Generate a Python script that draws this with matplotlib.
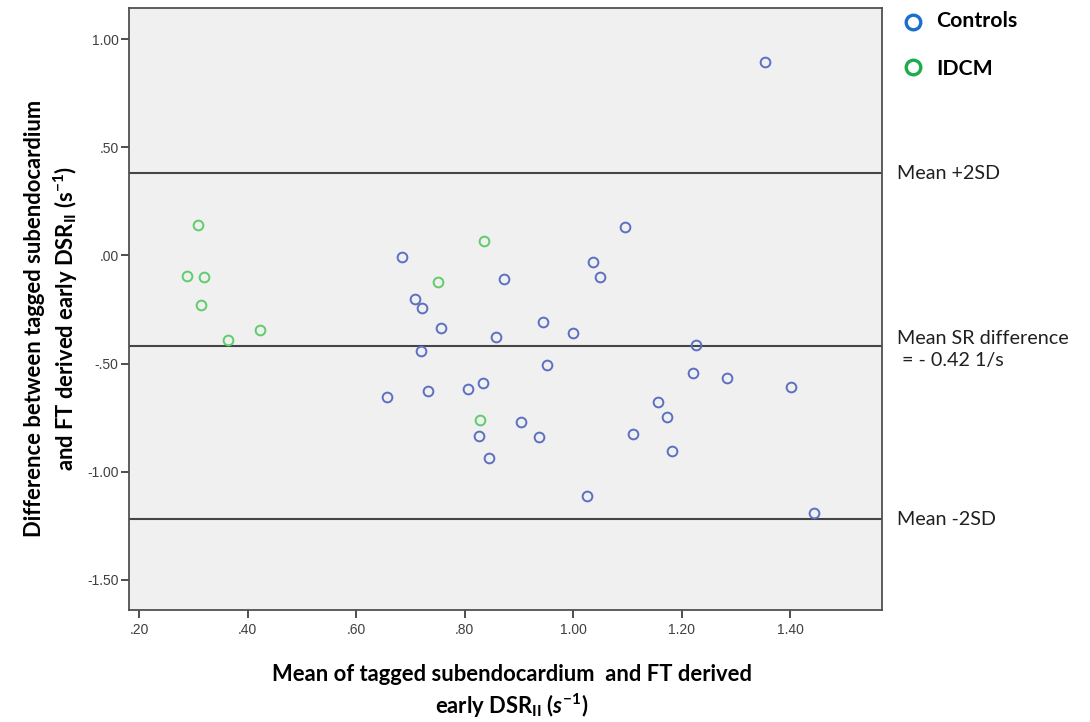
import matplotlib
matplotlib.use("Agg")
import matplotlib.pyplot as plt
import matplotlib.transforms as mtransforms
from matplotlib.ticker import FuncFormatter

# Bland-Altman data: mean of the two methods (x) and their difference (y)
controls_mean = [0.684, 0.708, 0.721, 0.756, 0.719, 1.095, 1.036, 1.049, 0.873,
                 0.944, 0.999, 0.858, 0.952, 0.833, 0.806, 0.733, 0.656, 0.903,
                 0.826, 0.937, 0.844, 1.157, 1.173, 1.111, 1.182, 1.226, 1.220,
                 1.283, 1.402, 1.443, 1.353, 1.025]
controls_diff = [-0.009, -0.199, -0.242, -0.333, -0.441, 0.131, -0.032, -0.099,
                 -0.108, -0.309, -0.360, -0.378, -0.505, -0.588, -0.617, -0.628,
                 -0.656, -0.769, -0.836, -0.838, -0.934, -0.676, -0.748, -0.826,
                 -0.906, -0.414, -0.543, -0.568, -0.606, -1.190, 0.894, -1.111]

idcm_mean = [0.309, 0.288, 0.319, 0.313, 0.364, 0.422, 0.751, 0.836, 0.829]
idcm_diff = [0.140, -0.097, -0.099, -0.230, -0.392, -0.346, -0.122, 0.066, -0.761]

mean_diff = -0.42
upper_loa = 0.38
lower_loa = -1.22

x_ticks = [0.2, 0.4, 0.6, 0.8, 1.0, 1.2, 1.4]
y_ticks = [1.0, 0.5, 0.0, -0.5, -1.0, -1.5]

plt.rcParams['mathtext.fontset'] = 'custom'
plt.rcParams['mathtext.rm'] = 'Lato:bold'
plt.rcParams['mathtext.bf'] = 'Lato:bold'
plt.rcParams['mathtext.it'] = 'Lato:bold:italic'

fig = plt.figure(figsize=(10.9, 7.22), dpi=100)
ax = fig.add_axes([0.1183, 0.1551, 0.6911, 0.8338])
ax.set_facecolor('#f0f0f0')

ax.plot(controls_mean, controls_diff, 'o', ms=7, mfc='none', mec='#5b70c2',
        mew=1.4, zorder=3)
ax.plot(idcm_mean, idcm_diff, 'o', ms=7, mfc='none', mec='#5fcc6b',
        mew=1.4, zorder=3)

for yv in (upper_loa, mean_diff, lower_loa):
    ax.axhline(yv, color='#454545', lw=1.5, zorder=2)

ax.set_xlim(0.181, 1.5696)
ax.set_ylim(-1.639, 1.144)
ax.set_xticks(x_ticks)
ax.set_yticks(y_ticks)


def spss_fmt(v, pos):
    s = f'{v:.2f}'
    if s.startswith('0.'):
        s = s[1:]
    elif s.startswith('-0.'):
        s = '-' + s[2:]
    return s


ax.xaxis.set_major_formatter(FuncFormatter(spss_fmt))
ax.yaxis.set_major_formatter(FuncFormatter(spss_fmt))
ax.tick_params(direction='out', length=5.5, width=1.3, color='#404040',
               labelsize=10, labelcolor='#404040')
ax.tick_params(axis='y', pad=2)
ax.tick_params(axis='x', pad=4)
for lab in ax.get_xticklabels() + ax.get_yticklabels():
    lab.set_family('Liberation Sans')
for sp in ax.spines.values():
    sp.set_color('#505050')
    sp.set_linewidth(1.3)

ax.set_xlabel('Mean of tagged subendocardium  and FT derived\n'
              r'early DSR$_{\mathbf{II}}$ ($\mathit{s}^{\mathbf{-1}}$)',
              family='Lato', fontweight='bold', fontsize=15.8,
              linespacing=1.3, va='top')
ax.xaxis.set_label_coords(0.508, -0.09)
ax.set_ylabel('Difference between tagged subendocardium\n'
              r'and FT derived early DSR$_{\mathbf{II}}$ (s$^{\mathbf{-1}}$)',
              family='Lato', fontweight='bold', fontsize=15.8,
              linespacing=1.3)
ax.yaxis.set_label_coords(-0.065, 0.485)

# labels for the reference lines, placed just right of the frame
trans = mtransforms.blended_transform_factory(ax.transAxes, ax.transData)
txt_kw = dict(transform=trans, family='Lato', fontsize=14.2, va='center',
              color='#202020', clip_on=False)
ax.text(1.019, upper_loa, 'Mean +2SD', **txt_kw)
ax.text(1.019, mean_diff - 0.015, 'Mean SR difference\n = - 0.42 1/s',
        linespacing=1.4, **txt_kw)
ax.text(1.019, lower_loa, 'Mean -2SD', **txt_kw)

# group key
ax.plot([1.0404], [0.9767], 'o', ms=10.5, mfc='none', mec='#1a6fcc', mew=2.4,
        transform=ax.transAxes, clip_on=False)
ax.plot([1.0404], [0.9025], 'o', ms=10.5, mfc='none', mec='#1aad4a', mew=2.4,
        transform=ax.transAxes, clip_on=False)
ax.text(1.0713, 0.979, 'Controls', transform=ax.transAxes, family='Lato',
        fontweight='bold', fontsize=15.3, va='center')
ax.text(1.0713, 0.899, 'IDCM', transform=ax.transAxes, family='Lato',
        fontweight='bold', fontsize=15.3, va='center')

fig.savefig('out.png', dpi=100)
